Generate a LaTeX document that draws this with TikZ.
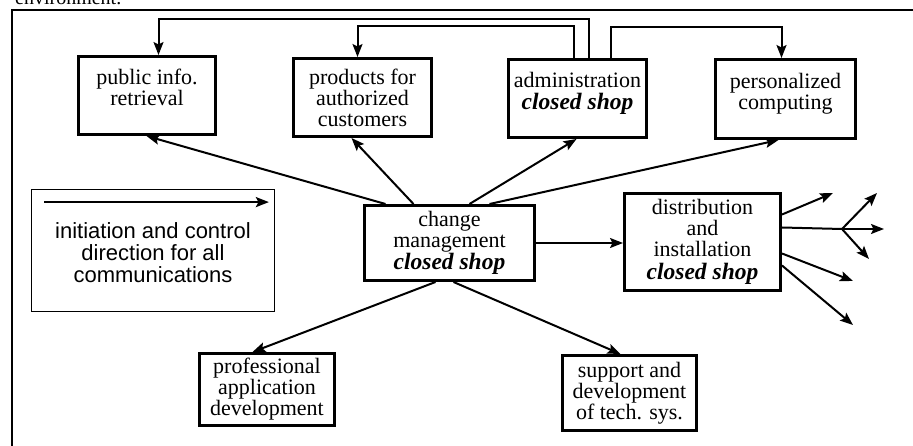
\documentclass[tikz,border=0pt]{standalone}
\usepackage{fontspec}
\setmainfont{Liberation Serif}
\setsansfont{Liberation Sans}
\usetikzlibrary{arrows.meta}

% bold italic tag used inside several boxes
\newcommand\closedshop{{\fontsize{23.5}{21}\selectfont\bfseries\itshape closed shop}}
\newcommand\boxfont{\fontsize{22}{21}\selectfont\lineskiplimit=-50pt\relax}

\begin{document}
\begin{tikzpicture}[x=1pt,y=-1pt,
  box/.style={draw, line width=3pt, inner sep=0pt, align=center, font=\boxfont},
  txt/.style={inner sep=0pt, align=center, font=\boxfont},
  legendbox/.style={draw, line width=1.8pt, minimum width=243pt, minimum height=122pt, inner sep=0pt},
  legendtxt/.style={inner sep=0pt, align=center, font=\sffamily\fontsize{22}{22}\selectfont},
  flow/.style={line width=2pt, -{Stealth[length=13pt, width=10pt, inset=2.5pt]}},
  frame/.style={line width=2pt}
]
\useasboundingbox (0,0) rectangle (913,446);

% caption line cut by the page edge
\node[anchor=base west, inner sep=0pt, font=\fontsize{20}{20}\selectfont] (caption) at (15,5) {environment.};

% enclosing frame (top and left edges)
\draw[frame] (12,470) -- (12,10) -- (940,10);

% top row
\node[box, minimum width=137pt, minimum height=78pt] (pub) at (147,95.5) {};
\node[txt] (pub-t) at ([yshift=8pt]pub.center) {public info.\\retrieval};
\node[box, minimum width=138pt, minimum height=78pt] (prod) at (362.5,97.5) {products for\\authorized\\customers};
\node[box, minimum width=138pt, minimum height=78pt] (admin) at (577.5,98.5) {};
\node[txt] (admin-t) at ([yshift=5pt]admin.center) {administration\\[1.5pt]\closedshop};
\node[box, minimum width=140pt, minimum height=79pt] (pers) at (785.5,99) {};
\node[txt] (pers-t) at ([yshift=5pt]pers.center) {personalized\\computing};

% middle row
\node[box, minimum width=170pt, minimum height=75pt] (change) at (449.5,243) {change\\management\\[1.5pt]\closedshop};
\node[box, minimum width=156pt, minimum height=97pt] (dist) at (702.5,242) {distribution\\and\\installation\\[1.5pt]\closedshop};

% bottom row
\node[box, minimum width=135pt, minimum height=72pt] (prof) at (267,389.5) {professional\\application\\development};
\node[box, minimum width=134pt, minimum height=75pt] (supp) at (629.5,393) {support and\\development\\of tech. sys.};

% legend
\node[legendbox] (legend) at (153,250.5) {};
\node[legendtxt] (legend-t) at ([yshift=-2pt]legend.center) {initiation and control\\direction for all\\communications};
\draw[flow] ([xshift=13.5pt,yshift=-13.5pt]legend.north west) -- ([xshift=-6.5pt,yshift=-13.5pt]legend.north east);

% links from administration over the top
\draw[flow] ([xshift=81.5pt]admin.north west) -- ++(0,-38.5) -| ([xshift=81.5pt]pub.north west);
\draw[flow] ([xshift=66.5pt]admin.north west) -- ++(0,-31.5) -| ([xshift=65.5pt]prod.north west);
\draw[flow] ([xshift=103.5pt]admin.north west) -- ++(0,-30.5) -| ([xshift=67.5pt]pers.north west);

% links from change management
\draw[flow] ([xshift=22.5pt]change.north west) -- ([xshift=69.5pt]pub.south west);
\draw[flow] ([xshift=50.5pt]change.north west) -- ([xshift=59.5pt]prod.south west);
\draw[flow] ([xshift=106.5pt]change.north west) -- ([xshift=69.5pt]admin.south west);
\draw[flow] ([xshift=126.5pt]change.north west) -- ([xshift=64.5pt]pers.south west);
\draw[flow] (change.east) -- (change.east -| dist.west);
\draw[flow] ([xshift=72.5pt]change.south west) -- ([xshift=54.5pt]prof.north west);
\draw[flow] ([xshift=90.5pt]change.south west) -- ([xshift=59.5pt]supp.north west);

% fan-out from distribution and installation
\coordinate (f1) at (833,193);
\coordinate (hub) at (842,229);
\coordinate (f2) at (884,229);
\coordinate (f3) at (877,193);
\coordinate (f4) at (869,259);
\coordinate (f5) at (853,281);
\coordinate (f6) at (853,325);
\draw[flow] ([yshift=-22.5pt]dist.north east) -- (f1);
\draw[line width=2pt] ([yshift=-35.5pt]dist.north east) -- (hub);
\draw[flow] (hub) -- (f2);
\draw[flow] (hub) -- (f3);
\draw[flow] (hub) -- (f4);
\draw[flow] ([yshift=-61.5pt]dist.north east) -- (f5);
\draw[flow] ([yshift=-73.5pt]dist.north east) -- (f6);
\end{tikzpicture}
\end{document}
